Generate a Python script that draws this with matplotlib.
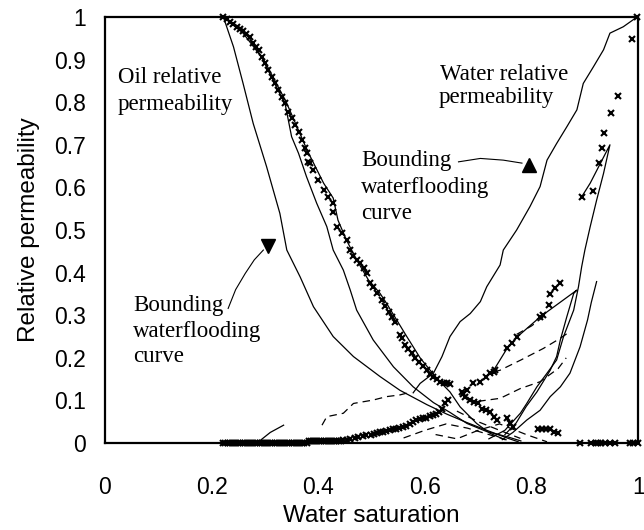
import matplotlib
matplotlib.use("Agg")
import matplotlib.pyplot as plt

# ---------------- data ----------------
xticks = [0, 0.2, 0.4, 0.6, 0.8, 1.0]
xtick_labels = ["0", "0.2", "0.4", "0.6", "0.8", "1"]
yticks = [0, 0.1, 0.2, 0.3, 0.4, 0.5, 0.6, 0.7, 0.8, 0.9, 1.0]
ytick_labels = ["0", "0.1", "0.2", "0.3", "0.4", "0.5", "0.6", "0.7", "0.8", "0.9", "1"]

# measured oil relative permeability (crosses)
oil_pts_x = [0.222, 0.229, 0.235, 0.241, 0.247, 0.253, 0.259, 0.265, 0.272, 0.278, 0.283, 0.288, 0.294,
             0.300, 0.306, 0.313, 0.319, 0.325, 0.332, 0.338, 0.344, 0.350, 0.356, 0.363, 0.369,
             0.375, 0.378, 0.381, 0.385, 0.391, 0.400, 0.410, 0.419, 0.428, 0.428, 0.435, 0.444,
             0.453, 0.460, 0.466, 0.472, 0.478, 0.485, 0.491, 0.497, 0.503, 0.511, 0.519, 0.525, 0.532,
             0.538, 0.544, 0.553, 0.557, 0.563, 0.569, 0.575, 0.582, 0.588, 0.596, 0.604, 0.610, 0.616,
             0.622, 0.629, 0.635, 0.641, 0.647, 0.679, 0.672, 0.675, 0.685, 0.692, 0.700, 0.707, 0.715,
             0.722, 0.729, 0.735, 0.754, 0.760, 0.766, 0.812, 0.820, 0.827, 0.835, 0.843, 0.850,
             0.891, 0.912, 0.920, 0.925, 0.931, 0.938, 0.948, 0.957, 0.985, 0.991, 1.0]
oil_pts_y = [1.000, 0.995, 0.989, 0.983, 0.977, 0.972, 0.966, 0.960, 0.954, 0.938, 0.930, 0.923, 0.907,
             0.891, 0.876, 0.860, 0.844, 0.829, 0.813, 0.797, 0.778, 0.762, 0.746, 0.731, 0.711,
             0.692, 0.680, 0.660, 0.657, 0.641, 0.617, 0.594, 0.578, 0.563, 0.543, 0.508, 0.492,
             0.477, 0.453, 0.440, 0.430, 0.422, 0.410, 0.398, 0.375, 0.367, 0.352, 0.336, 0.322, 0.308,
             0.296, 0.285, 0.254, 0.246, 0.230, 0.220, 0.211, 0.200, 0.191, 0.180, 0.171, 0.163, 0.156,
             0.150, 0.144, 0.142, 0.140, 0.139, 0.124, 0.116, 0.109, 0.101, 0.097, 0.093, 0.081, 0.077,
             0.073, 0.062, 0.054, 0.058, 0.048, 0.038, 0.034, 0.034, 0.034, 0.032, 0.027, 0.023,
             0.0, 0.0, 0.0, 0.0, 0.0, 0.0, 0.0, 0.0, 0.0, 0.0, 0.0]

# measured water relative permeability (crosses)
wat_pts_x = [0.222, 0.226, 0.230, 0.234, 0.238, 0.242, 0.246, 0.250, 0.254, 0.258, 0.262, 0.266,
             0.270, 0.274, 0.278, 0.282, 0.286, 0.290, 0.294, 0.298, 0.302, 0.306, 0.310, 0.314,
             0.318, 0.322, 0.326, 0.330, 0.334, 0.338, 0.342, 0.346, 0.350, 0.354, 0.358, 0.362,
             0.366, 0.370, 0.374, 0.378, 0.382, 0.386, 0.390, 0.394, 0.398, 0.402, 0.406, 0.410,
             0.414, 0.418, 0.422, 0.426, 0.430, 0.434, 0.438, 0.442, 0.446, 0.453, 0.460, 0.468,
             0.475, 0.483, 0.490, 0.498, 0.505, 0.511, 0.516, 0.522, 0.527, 0.534, 0.540, 0.546,
             0.552, 0.558, 0.565, 0.572, 0.578, 0.584, 0.590, 0.596, 0.602, 0.610, 0.616, 0.621,
             0.627, 0.632, 0.638, 0.644, 0.670, 0.690, 0.704, 0.715, 0.722, 0.729, 0.732, 0.754,
             0.763, 0.772, 0.816, 0.822, 0.832, 0.835, 0.844, 0.854, 0.894, 0.916, 0.926, 0.933,
             0.936, 0.949, 0.963, 0.988, 0.998]
wat_pts_y = [0.0, 0.0, 0.0, 0.0, 0.0, 0.0, 0.0, 0.0, 0.0, 0.0, 0.0, 0.0,
             0.0, 0.0, 0.0, 0.0, 0.0, 0.0, 0.0, 0.0, 0.0, 0.0, 0.0, 0.0,
             0.0, 0.0, 0.0, 0.0, 0.0, 0.0, 0.0, 0.0, 0.0, 0.0, 0.0, 0.0,
             0.0, 0.0, 0.0, 0.0, 0.004, 0.004, 0.004, 0.004, 0.004, 0.004, 0.004, 0.004,
             0.005, 0.005, 0.005, 0.005, 0.005, 0.006, 0.006, 0.006, 0.007, 0.008, 0.010, 0.012,
             0.014, 0.016, 0.019, 0.020, 0.022, 0.024, 0.025, 0.026, 0.028, 0.030, 0.032, 0.034,
             0.036, 0.038, 0.040, 0.045, 0.050, 0.053, 0.056, 0.058, 0.060, 0.064, 0.066, 0.068,
             0.072, 0.080, 0.093, 0.101, 0.120, 0.141, 0.144, 0.155, 0.164, 0.167, 0.171, 0.222,
             0.234, 0.248, 0.296, 0.300, 0.324, 0.351, 0.363, 0.376, 0.578, 0.592, 0.657, 0.692,
             0.727, 0.774, 0.815, 0.948, 1.0]

# model curves (solid)
oil_bound_x = [0.222, 0.241, 0.259, 0.278, 0.303, 0.328, 0.341, 0.366, 0.391, 0.428, 0.466, 0.516,
               0.553, 0.604, 0.641, 0.679, 0.716, 0.754, 0.775]
oil_bound_y = [1.0, 0.930, 0.844, 0.750, 0.649, 0.539, 0.453, 0.390, 0.320, 0.250, 0.203, 0.156,
               0.124, 0.090, 0.068, 0.048, 0.030, 0.012, 0.003]
oil_mid_x = [0.222, 0.259, 0.294, 0.319, 0.338, 0.350, 0.363, 0.378, 0.397, 0.416, 0.428, 0.447,
             0.460, 0.472, 0.503, 0.541, 0.578, 0.616, 0.647, 0.679, 0.716, 0.754, 0.780]
oil_mid_y = [1.0, 0.962, 0.905, 0.842, 0.795, 0.719, 0.680, 0.625, 0.563, 0.508, 0.453, 0.406,
             0.359, 0.312, 0.242, 0.179, 0.132, 0.095, 0.072, 0.046, 0.027, 0.015, 0.005]
oil_right_x = [0.222, 0.260, 0.300, 0.340, 0.380, 0.410, 0.428, 0.437, 0.453, 0.472, 0.494, 0.516,
               0.528, 0.566, 0.591, 0.622, 0.647, 0.666, 0.697, 0.722, 0.750]
oil_right_y = [1.0, 0.970, 0.895, 0.800, 0.685, 0.610, 0.575, 0.523, 0.476, 0.430, 0.383, 0.351,
               0.328, 0.250, 0.200, 0.152, 0.120, 0.085, 0.046, 0.023, 0.008]
wat_bound_x = [0.998, 0.972, 0.947, 0.935, 0.916, 0.897, 0.885, 0.866, 0.847, 0.829, 0.816, 0.797,
               0.772, 0.747, 0.741, 0.716, 0.704, 0.685, 0.666, 0.647, 0.632, 0.616, 0.591, 0.578]
wat_bound_y = [1.0, 0.977, 0.962, 0.923, 0.883, 0.844, 0.782, 0.742, 0.703, 0.664, 0.602, 0.555,
               0.500, 0.453, 0.418, 0.367, 0.332, 0.304, 0.285, 0.250, 0.203, 0.164, 0.140, 0.118]
wat_a_x = [0.894, 0.910, 0.926, 0.947, 0.935, 0.922, 0.910, 0.900, 0.894, 0.888, 0.879, 0.860,
           0.847, 0.829, 0.810, 0.791, 0.779, 0.750, 0.720]
wat_a_y = [0.578, 0.610, 0.649, 0.700, 0.633, 0.570, 0.508, 0.453, 0.414, 0.367, 0.312, 0.250,
           0.195, 0.164, 0.132, 0.093, 0.070, 0.030, 0.010]
wat_b_x = [0.922, 0.912, 0.905, 0.891, 0.872, 0.854, 0.835, 0.816, 0.791, 0.765, 0.745]
wat_b_y = [0.379, 0.330, 0.289, 0.226, 0.164, 0.132, 0.109, 0.077, 0.054, 0.025, 0.008]
wat_c_x = [0.704, 0.729, 0.754, 0.772, 0.816, 0.885, 0.879, 0.866, 0.854, 0.847, 0.835, 0.810,
           0.790, 0.771, 0.750]
wat_c_y = [0.144, 0.171, 0.222, 0.248, 0.296, 0.359, 0.351, 0.296, 0.242, 0.203, 0.171, 0.120,
           0.086, 0.047, 0.020]
wat_low_x = [0.288, 0.310, 0.335]
wat_low_y = [0.003, 0.025, 0.042]

# model curves (dashed)
dash_a_x = [0.772, 0.800, 0.822]
dash_a_y = [0.255, 0.275, 0.296]
dash_b_x = [0.729, 0.741, 0.780, 0.822, 0.854, 0.870]
dash_b_y = [0.167, 0.171, 0.195, 0.222, 0.246, 0.260]
dash_c_x = [0.700, 0.741, 0.779, 0.816, 0.850, 0.865]
dash_c_y = [0.098, 0.105, 0.128, 0.144, 0.175, 0.200]
dash_d_x = [0.407, 0.416, 0.447, 0.466, 0.503, 0.528, 0.553, 0.575]
dash_d_y = [0.042, 0.062, 0.070, 0.093, 0.101, 0.109, 0.113, 0.120]
dash_e_x = [0.560, 0.600, 0.640, 0.680, 0.720, 0.760]
dash_e_y = [0.012, 0.030, 0.045, 0.035, 0.020, 0.005]
dash_f_x = [0.660, 0.700, 0.740, 0.779]
dash_f_y = [0.075, 0.050, 0.030, 0.011]
dash_g_x = [0.620, 0.660, 0.700, 0.740, 0.790, 0.829]
dash_g_y = [0.020, 0.010, 0.030, 0.045, 0.020, 0.003]

# annotation leader curves and arrow heads
lead_low_x = [0.231, 0.245, 0.263, 0.280, 0.297]
lead_low_y = [0.316, 0.360, 0.398, 0.430, 0.453]
head_low = (0.306, 0.462)
lead_up_x = [0.663, 0.704, 0.747, 0.782]
lead_up_y = [0.660, 0.668, 0.664, 0.657]
head_up = (0.796, 0.652)

# ---------------- figure ----------------
fig = plt.figure(figsize=(6.44, 5.30), dpi=100)
ax = fig.add_axes([0.163, 0.164, 0.828, 0.804])
ax.set_xlim(0, 1)
ax.set_ylim(0, 1)

lw = 0.9
for xs, ys in [(oil_bound_x, oil_bound_y), (oil_mid_x, oil_mid_y), (oil_right_x, oil_right_y),
               (wat_bound_x, wat_bound_y), (wat_a_x, wat_a_y), (wat_b_x, wat_b_y),
               (wat_c_x, wat_c_y), (wat_low_x, wat_low_y)]:
    ax.plot(xs, ys, color="black", lw=lw, solid_joinstyle="round")
for xs, ys in [(dash_a_x, dash_a_y), (dash_b_x, dash_b_y), (dash_c_x, dash_c_y), (dash_d_x, dash_d_y),
               (dash_e_x, dash_e_y), (dash_f_x, dash_f_y), (dash_g_x, dash_g_y)]:
    ax.plot(xs, ys, color="black", lw=lw, ls=(0, (6, 4)))

ax.plot(oil_pts_x, oil_pts_y, ls="none", marker="x", ms=4.5, mew=1.5, color="black", clip_on=False)
ax.plot(wat_pts_x, wat_pts_y, ls="none", marker="x", ms=4.5, mew=1.5, color="black", clip_on=False)

# leaders
ax.plot(lead_low_x, lead_low_y, color="black", lw=0.8)
ax.plot([head_low[0]], [head_low[1]], marker="v", ms=10, color="black", ls="none")
ax.plot(lead_up_x, lead_up_y, color="black", lw=0.8)
ax.plot([head_up[0]], [head_up[1]], marker="^", ms=10, color="black", ls="none")

serif = dict(family="Liberation Serif", fontsize=16.5, va="baseline", ha="left")
ax.text(0.024, 0.844, "Oil relative", **serif)
ax.text(0.024, 0.782, "permeability", **serif)
ax.text(0.628, 0.852, "Water relative", **serif)
ax.text(0.626, 0.797, "permeability", **serif)
ax.text(0.480, 0.650, "Bounding", **serif)
ax.text(0.480, 0.586, "waterflooding", **serif)
ax.text(0.480, 0.527, "curve", **serif)
ax.text(0.053, 0.310, "Bounding", **serif)
ax.text(0.053, 0.250, "waterflooding", **serif)
ax.text(0.053, 0.190, "curve", **serif)

for s in ax.spines.values():
    s.set_linewidth(1.6)
    s.set_color("black")

ax.set_xticks(xticks)
ax.set_xticklabels(xtick_labels, family="Liberation Sans", fontsize=16.5)
ax.set_yticks(yticks)
ax.set_yticklabels(ytick_labels, family="Liberation Sans", fontsize=16.5)
ax.tick_params(axis="x", length=0, pad=24)
ax.tick_params(axis="y", length=0, pad=14)
ax.set_xlabel("Water saturation", family="Liberation Sans", fontsize=17.5, labelpad=4)
ax.set_ylabel("Relative permeability", family="Liberation Sans", fontsize=17.5, labelpad=10)

fig.savefig("out.png", dpi=100)
